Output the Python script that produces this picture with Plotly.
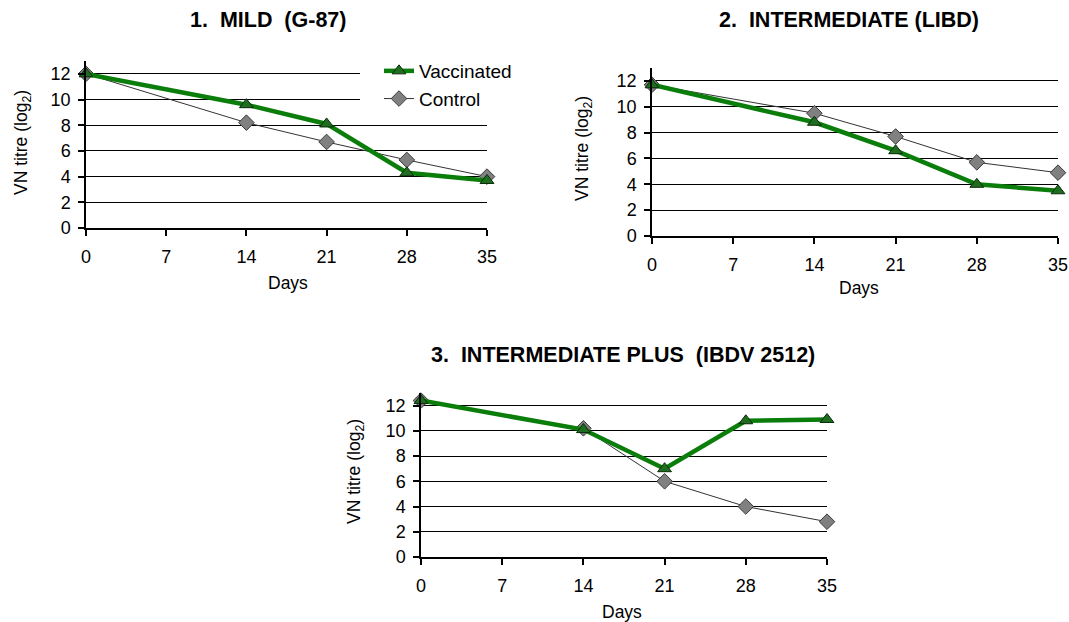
import plotly.graph_objects as go

days = [0, 14, 21, 28, 35]
tick_days = [0, 7, 14, 21, 28, 35]
y_ticks = [0, 2, 4, 6, 8, 10, 12]

mild_vacc = [12.0, 9.6, 8.1, 4.3, 3.7]
mild_ctrl = [12.0, 8.2, 6.7, 5.3, 4.0]
inter_vacc = [11.7, 8.8, 6.6, 4.0, 3.5]
inter_ctrl = [11.7, 9.5, 7.7, 5.7, 4.9]
plus_vacc = [12.4, 10.1, 7.0, 10.8, 10.9]
plus_ctrl = [12.4, 10.2, 6.0, 4.0, 2.8]

titles = ["1.  MILD  (G-87)", "2.  INTERMEDIATE (LIBD)", "3.  INTERMEDIATE PLUS  (IBDV 2512)"]

W, H = 1069, 622
FONT = "Liberation Sans, Arial, sans-serif"
GREEN = "#0b7d0b"

fig = go.Figure()

panels = [
    (mild_vacc, mild_ctrl, "", (86, 487), (61, 228)),
    (inter_vacc, inter_ctrl, "2", (652, 1058), (68, 236)),
    (plus_vacc, plus_ctrl, "3", (421, 827), (393, 557)),
]

for i, (vacc, ctrl, s, (x0, x1), (ytop, ybot)) in enumerate(panels):
    xa = "x" + s
    ya = "y" + s
    fig.add_trace(go.Scatter(
        x=days, y=ctrl, mode="lines+markers", name="Control",
        xaxis=xa, yaxis=ya, showlegend=(i == 0), cliponaxis=False,
        line=dict(color="#333333", width=1),
        marker=dict(symbol="diamond", size=12, color="#808080",
                    line=dict(color="#3a3a3a", width=1)),
        legendrank=2,
    ))
    fig.add_trace(go.Scatter(
        x=days, y=vacc, mode="lines+markers", name="Vaccinated",
        xaxis=xa, yaxis=ya, showlegend=(i == 0), cliponaxis=False,
        line=dict(color=GREEN, width=4.5),
        marker=dict(symbol="triangle-up", size=12, color="#1f6e1f",
                    line=dict(color="#0a2a0a", width=1)),
        legendrank=1,
    ))
    xkey = "xaxis" + s
    ykey = "yaxis" + s
    fig.layout[xkey] = dict(
        domain=[x0 / W, x1 / W], anchor=ya, range=[0, 35], automargin=False,
        tickvals=tick_days, ticktext=[str(t) for t in tick_days],
        ticks="outside", ticklen=6, tickwidth=1.5, tickcolor="black",
        showline=True, linecolor="black", linewidth=1.5,
        showgrid=False, zeroline=False, ticklabelstandoff=6,
        tickfont=dict(family=FONT, size=18, color="black"),
    )
    fig.layout[ykey] = dict(
        domain=[1 - ybot / H, 1 - ytop / H], anchor=xa, range=[0, 13],
        automargin=False,
        tickvals=y_ticks, ticks="outside", ticklen=6, tickwidth=1.5,
        tickcolor="black", showline=True, linecolor="black", linewidth=1.5,
        showgrid=True, gridcolor="black", gridwidth=1.3, zeroline=False,
        ticklabelstandoff=4,
        tickfont=dict(family=FONT, size=18, color="black"),
    )
    # inner half of crossing tick marks
    ov = str(4 + i)
    fig.layout["xaxis" + ov] = dict(
        overlaying=xa, anchor=ya, side="bottom", range=[0, 35],
        domain=[x0 / W, x1 / W], automargin=False,
        tickvals=tick_days, ticks="inside", ticklen=6, tickwidth=1.5,
        tickcolor="black", showticklabels=False, showline=False,
        showgrid=False, zeroline=False,
    )

annos = []
title_pos = [(268, 20), (849, 20), (623, 355)]
for t, (cx, cy) in zip(titles, title_pos):
    annos.append(dict(text="<b>" + t + "</b>", x=cx / W, y=1 - cy / H,
                      xref="paper", yref="paper", showarrow=False,
                      xanchor="center", yanchor="middle",
                      font=dict(family=FONT, size=21.5, color="black")))
ylab_pos = [(22, 143), (584, 149), (355, 472)]
for (cx, cy) in ylab_pos:
    annos.append(dict(text="VN titre (log<sub>2</sub>)", x=cx / W, y=1 - cy / H,
                      xref="paper", yref="paper", showarrow=False, textangle=-90,
                      xanchor="center", yanchor="middle",
                      font=dict(family=FONT, size=17.5, color="black")))
xlab_pos = [(288, 283), (859, 288), (622, 612)]
for (cx, cy) in xlab_pos:
    annos.append(dict(text="Days", x=cx / W, y=1 - cy / H,
                      xref="paper", yref="paper", showarrow=False,
                      xanchor="center", yanchor="middle",
                      font=dict(family=FONT, size=17.5, color="black")))

fig.update_layout(
    template="none",
    width=W, height=H, margin=dict(l=0, r=0, t=0, b=0, pad=0),
    paper_bgcolor="white", plot_bgcolor="white",
    showlegend=True,
    legend=dict(x=360 / W, y=1 - 52 / H, xanchor="left", yanchor="top",
                bgcolor="white", borderwidth=0, indentation=19,
                font=dict(family=FONT, size=19, color="black"),
                traceorder="normal"),
    annotations=annos,
)

fig.write_html("out.html")
